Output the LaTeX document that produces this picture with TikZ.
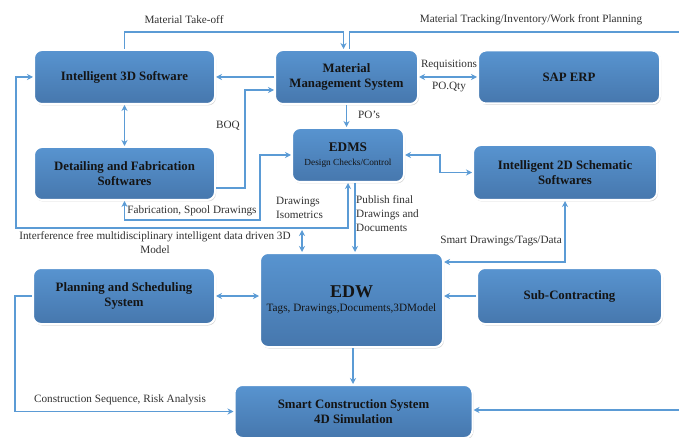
\documentclass[tikz,border=0pt]{standalone}
\usepackage{fontspec}
\setmainfont{Liberation Serif}
\usetikzlibrary{arrows.meta,shadows}
\definecolor{boxblue}{HTML}{5894D0}
\definecolor{boxdark}{HTML}{4677AD}
\definecolor{lineblue}{HTML}{5B9BD5}
\definecolor{lbl}{HTML}{303030}
\definecolor{btxt}{HTML}{141414}
\tikzset{
  box/.style={rounded corners=8pt, draw=white, line width=2pt,
    top color=boxblue, middle color=boxblue, bottom color=boxdark,
    drop shadow={shadow xshift=1pt, shadow yshift=-1.5pt, opacity=0.3},
    inner sep=0pt, align=center, text=btxt,
    font=\bfseries\fontsize{12.8}{15.5}\selectfont},
  wire/.style={draw=lineblue, line width=1.6pt},
  conn/.style={wire, -{Stealth[length=6pt,width=6pt]}},
  conn2/.style={wire, {Stealth[length=6pt,width=6pt]}-{Stealth[length=6pt,width=6pt]}},
  lab/.style={font=\fontsize{11.2}{14}\selectfont, text=lbl, inner sep=0pt, align=center},
  labl/.style={lab, align=left, anchor=west},
}
\begin{document}
\begin{tikzpicture}[x=1pt,y=-1pt]
\useasboundingbox (0,0) rectangle (679,438);

% boxes
\node[box, minimum width=181, minimum height=54] (i3d) at (124.5,77) {Intelligent 3D Software};
\node[box, minimum width=143, minimum height=54] (mms) at (346.5,77) {Material\\Management System};
\node[box, minimum width=182, minimum height=53] (sap) at (569,77) {SAP ERP};
\node[box, minimum width=181, minimum height=53] (dfs) at (124.5,173.5) {Detailing and Fabrication\\Softwares};
\node[box, minimum width=112, minimum height=54] (edms) at (348,155)
  {\fontsize{13.2}{14}\selectfont EDMS\\[-1pt]{\mdseries\fontsize{9.3}{10}\selectfont Design Checks/Control}};
\node[box, minimum width=184, minimum height=55] (i2d) at (565,172.5) {Intelligent 2D Schematic\\Softwares};
\node[box, minimum width=182, minimum height=56] (plan) at (124,296) {Planning and Scheduling\\System};
\node[box, minimum width=183, minimum height=94] (edw) at (351.5,300)
  {\fontsize{18}{19}\selectfont EDW\\[-1pt]{\mdseries\fontsize{11.2}{12}\selectfont Tags, Drawings,Documents,3DModel}};
\node[box, minimum width=185, minimum height=56] (sub) at (569.5,296) {Sub-Contracting};
\node[box, minimum width=238, minimum height=53] (scs) at (353.5,411.5) {Smart Construction System\\4D Simulation};

% free ends and bends
\coordinate (eTop) at (679,32);
\coordinate (eBot) at (679,410);
\coordinate (fabc) at (260,220);
\coordinate (loopc) at (16,228);
\coordinate (intTop) at (302,230);

% connectors
\draw[conn] (i3d.north) -- (i3d.north |- eTop) -| ([xshift=-3pt]mms.north);
\draw[wire] ([xshift=3pt]mms.north) |- (eTop);
\draw[conn] (mms.west) -- (i3d.east);
\draw[conn2] (i3d.south) -- (dfs.north);
\draw[conn] ([yshift=-14.5pt]dfs.east) -- ++(29,0) |- ([yshift=-13pt]mms.west);
\draw[conn2] (dfs.south) |- (fabc) |- (edms.west);
\draw[conn2] (edms.south) |- (loopc) |- (i3d.west);
\draw[conn2] (intTop) -- (intTop |- edw.north);
\draw[conn] ([xshift=7pt]edms.south) -- ([xshift=7pt]edms.south |- edw.north);
\draw[conn] (mms.south) -- (mms.south |- edms.north);
\draw[conn2] (mms.east) -- (sap.west);
\draw[conn2] (edms.east) -- ++(35,0) |- (i2d.west);
\draw[conn2] (i2d.south) |- ([yshift=38pt]edw.east);
\draw[conn] (sub.west) -- (sub.west -| edw.east);
\draw[conn2] (plan.east) -- (plan.east -| edw.west);
\draw[conn] (plan.west) -- ++(-17,0) |- (scs.west);
\draw[conn] ([xshift=1.5pt]edw.south) -- ([xshift=1.5pt]edw.south |- scs.north);
\draw[conn] (eBot) -- (eBot -| scs.east);

% labels
\node[lab] (l1) at (184,20) {Material Take-off};
\node[lab] (l2) at (531,20) {Material Tracking/Inventory/Work front Planning};
\node[lab] (l3) at (449,65) {Requisitions};
\node[lab] (l4) at (449,87) {PO.Qty};
\node[lab] (l5) at (228,126) {BOQ};
\node[labl] (l6) at (358,115) {PO’s};
\node[lab] (l7) at (192,211) {Fabrication, Spool Drawings};
\node[labl] (l8) at (276,207.5) {Drawings\\Isometrics};
\node[labl] (l9) at (356,214) {Publish final\\Drawings and\\Documents};
\node[lab] (l10) at (155,243) {Interference free multidisciplinary intelligent data driven 3D\\Model};
\node[lab] (l11) at (501,241) {Smart Drawings/Tags/Data};
\node[lab] (l12) at (120,400) {Construction Sequence, Risk Analysis};
\end{tikzpicture}
\end{document}
